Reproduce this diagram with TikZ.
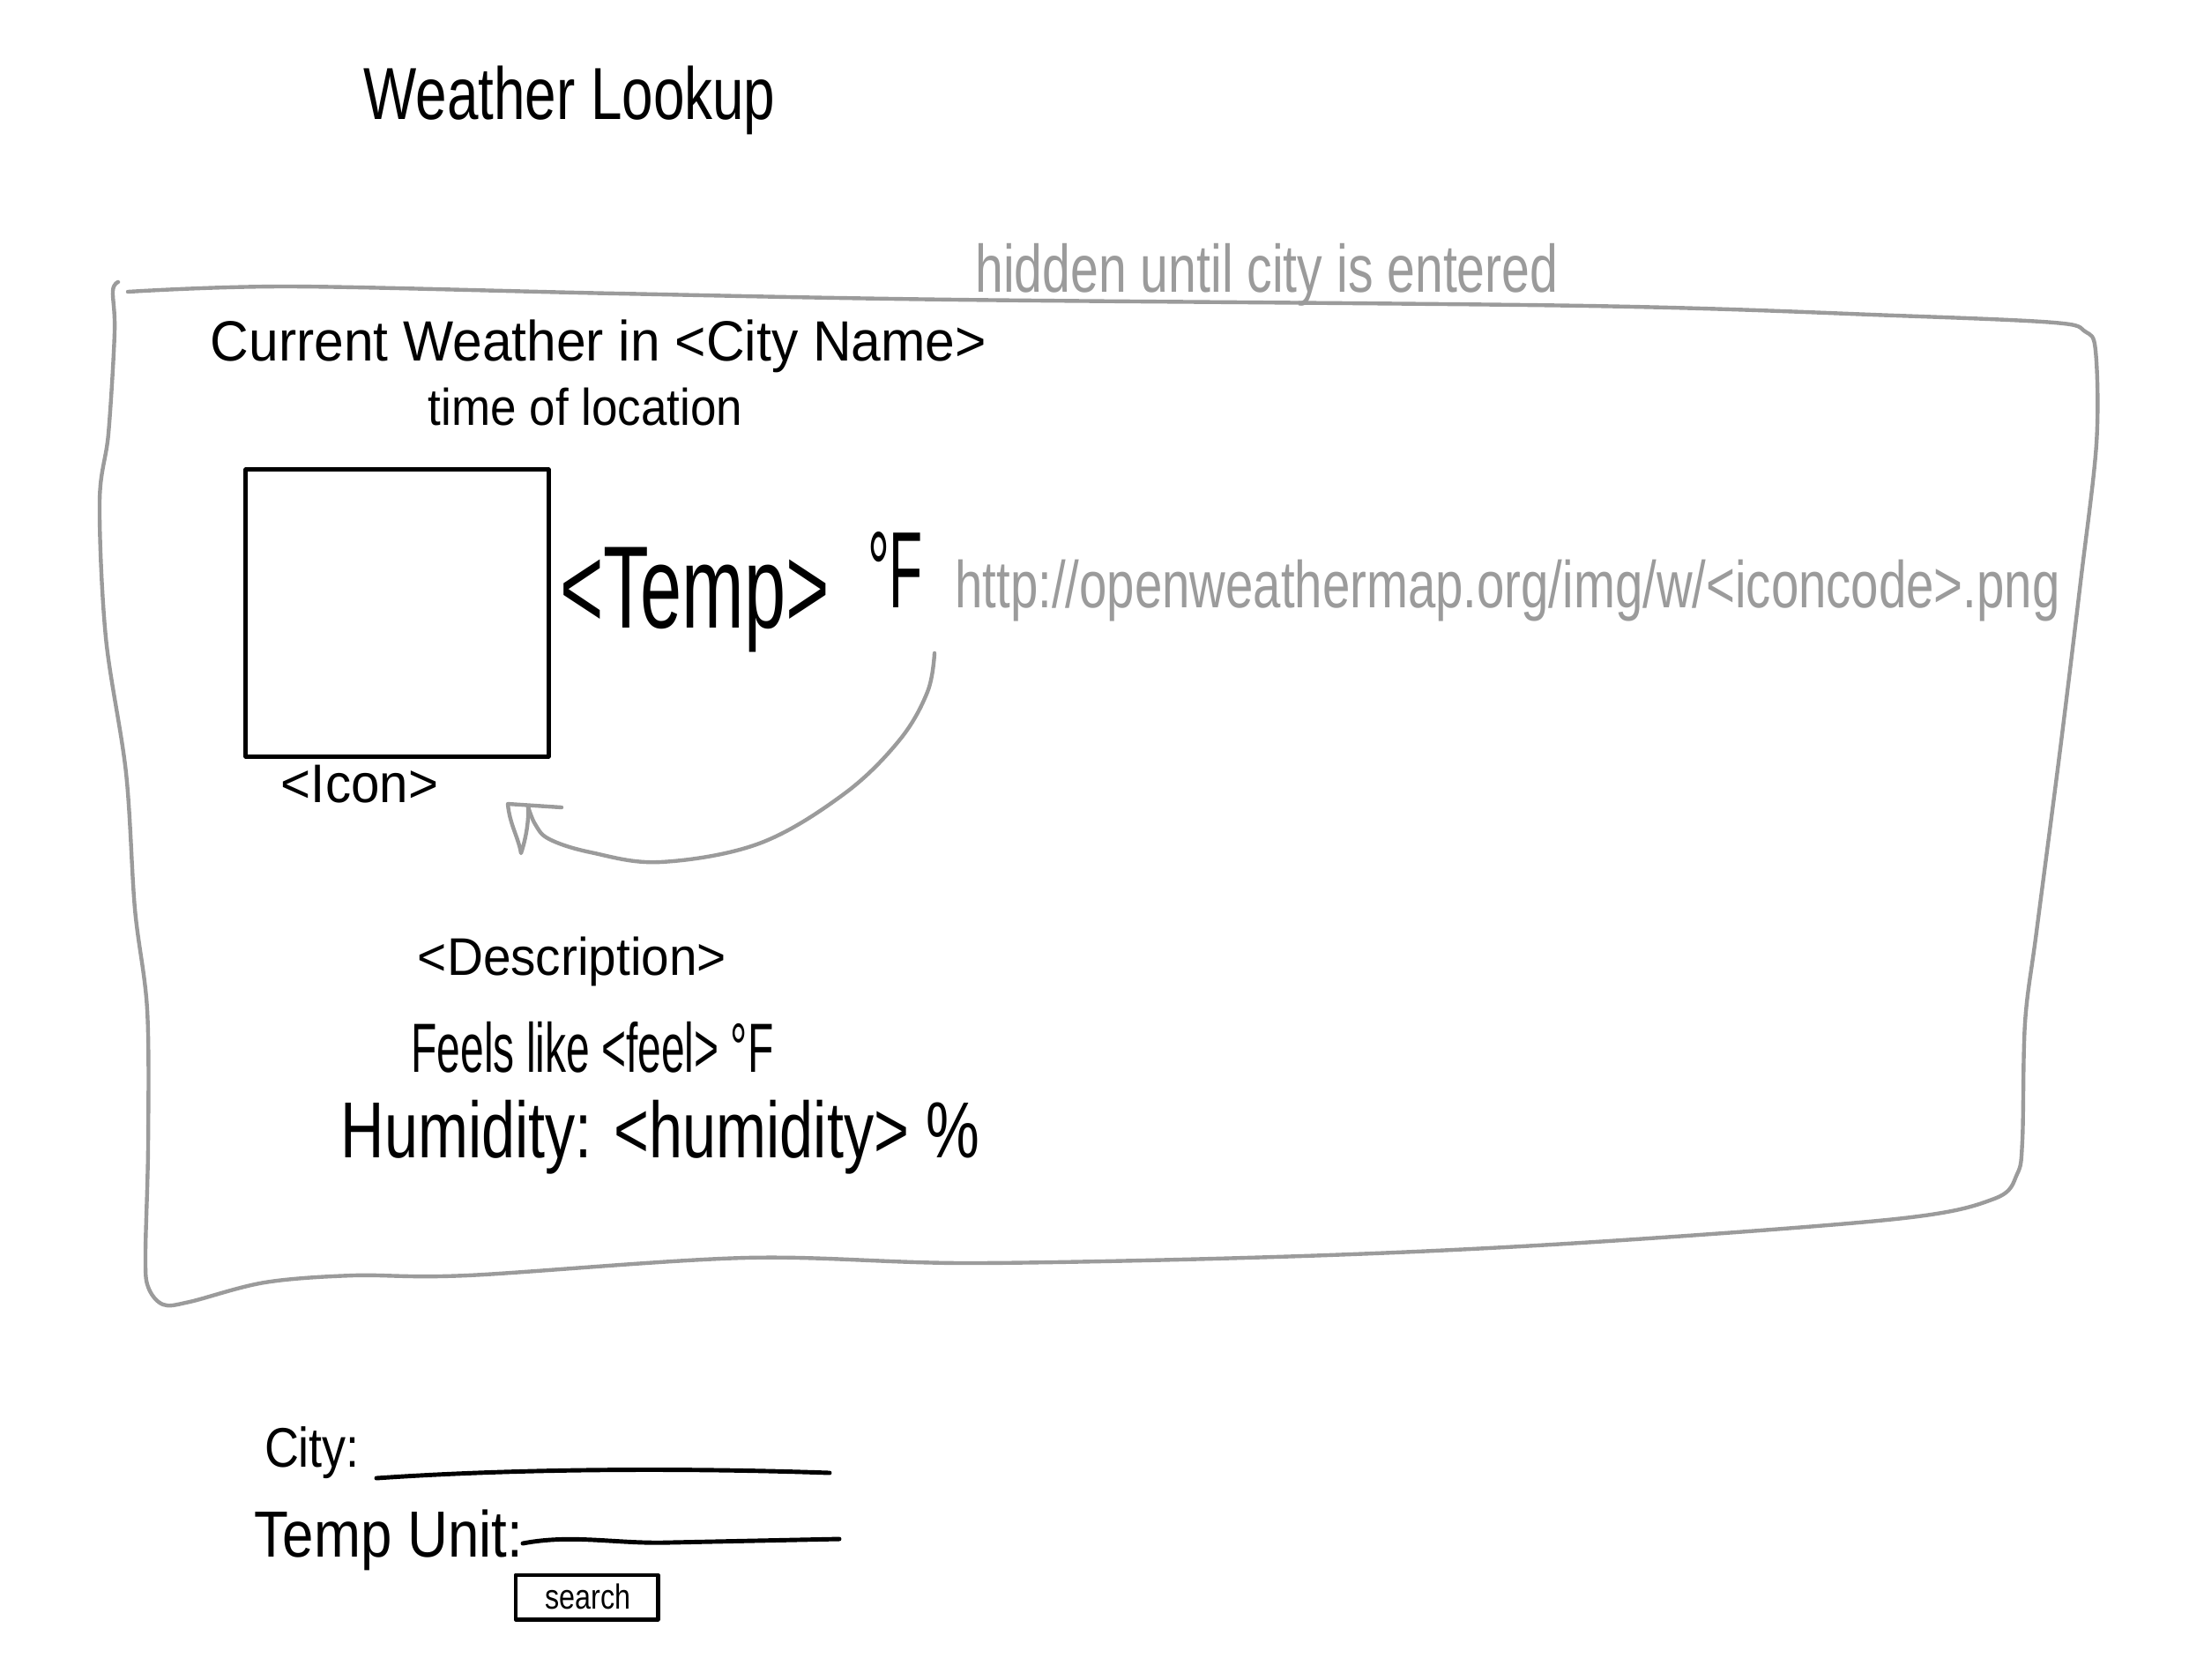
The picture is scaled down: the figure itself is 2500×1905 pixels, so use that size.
\documentclass[tikz,border=0pt]{standalone}
\usepackage{fontspec}
\setmainfont{Liberation Sans}
\usepackage{graphicx}
\definecolor{pencil}{RGB}{155,155,155}
\newlength\hwunit
\setlength\hwunit{0.01cm}
\newcommand\hw[3]{\resizebox*{#1\hwunit}{#2\hwunit}{#3}}
\tikzset{
  txt/.style={inner sep=0pt, outer sep=0pt, text=black},
  note/.style={inner sep=0pt, outer sep=0pt, text=pencil},
  pencilline/.style={draw=pencil, line width=1.25pt, line cap=round, line join=round},
  penline/.style={draw=black, line width=1.4pt, line cap=round, line join=round},
}
\begin{document}
\begin{tikzpicture}[x=0.01cm, y=-0.01cm]
\useasboundingbox (0,0) rectangle (2500,1905);

% title
\node[txt] (title) at (646,114) {\hw{467}{78}{Weather Lookup}};

% hidden panel
\draw[pencilline] plot[smooth, tension=0.55] coordinates {
 (145,331) (330,325) (700,333) (1084,340) (1800,347) (2150,358) (2330,366)
 (2365,376) (2377,398) (2378,503) (2360,660) (2337,849) (2310,1057)
 (2297,1160) (2294,1293) (2288,1332) (2262,1360) (2150,1383) (1793,1410)
 (1477,1425) (1104,1433) (846,1427) (530,1447) (401,1447) (300,1455)
 (215,1477) (185,1480) (168,1460) (165,1423) (168,1300) (167,1146)
 (153,1031) (143,877) (120,723) (113,569) (123,492) (130,377) (128,330) (134,320)};
\node[note] (hiddennote) at (1437,312) {\hw{661}{71}{hidden until city is entered}};

\node[txt] (heading) at (679,393) {\hw{880}{60}{Current Weather in <City Name>}};
\node[txt] (loctime) at (664,462) {\hw{356}{43}{time of location}};

% icon box
\node[penline, draw, minimum width=3.43cm, minimum height=3.25cm, inner sep=0pt] (iconbox) at (450.5,695.5) {};
\node[txt] (iconlabel) at (408,890) {\hw{178}{43}{<Icon>}};

% temperature
\node[txt] (temp) at (788,681) {\hw{306}{119}{<Temp>}};
\node[txt] (degF) at (1015.5,646) {\hw{63}{86}{°F}};
\node[note] (url) at (1710,670) {\hw{1253}{70}{http://openweathermap.org/img/w/<iconcode>.png}};

% arrow from the URL/temperature to the icon
\coordinate (arrowstart) at (1060,741);
\coordinate (arrowtip) at (599,915);
\draw[pencilline] plot[smooth, tension=0.6] coordinates {
 (arrowstart) (1052,785) (1020,840) (957,901) (861,957) (749,978)
 (670,967) (623,952) (607,935) (arrowtip)};
\draw[pencilline] (637,916) -- (576,912)
  .. controls (578,935) and (588,950) .. (591,968)
  .. controls (597,950) and (600,930) .. (arrowtip);

% details
\node[txt] (desc) at (649,1091) {\hw{350}{56}{<Description>}};
\node[txt] (feels) at (672,1188) {\hw{411}{58}{Feels like <feel> °F}};
\node[txt] (humid) at (749,1290) {\hw{724}{84}{Humidity: <humidity> \%}};

% form
\node[txt] (citylabel) at (354,1648) {\hw{108}{59}{City:}};
\coordinate (cityA) at (427,1677);
\coordinate (cityB) at (941,1671);
\draw[penline] (cityA) .. controls (600,1665) and (800,1666) .. (cityB);

\node[txt] (unitlabel) at (441,1747) {\hw{304}{69}{Temp Unit:}};
\coordinate (unitA) at (593,1751);
\coordinate (unitB) at (952,1746);
\draw[penline] (unitA) .. controls (650,1740) and (700,1752) .. (760,1750) -- (unitB);

\node[penline, draw, minimum width=1.61cm, minimum height=0.50cm, inner sep=0pt] (searchbtn) at (665.5,1812) {};
\node[txt] (searchtext) at (667,1811) {\hw{97}{29}{search}};
\end{tikzpicture}
\end{document}
